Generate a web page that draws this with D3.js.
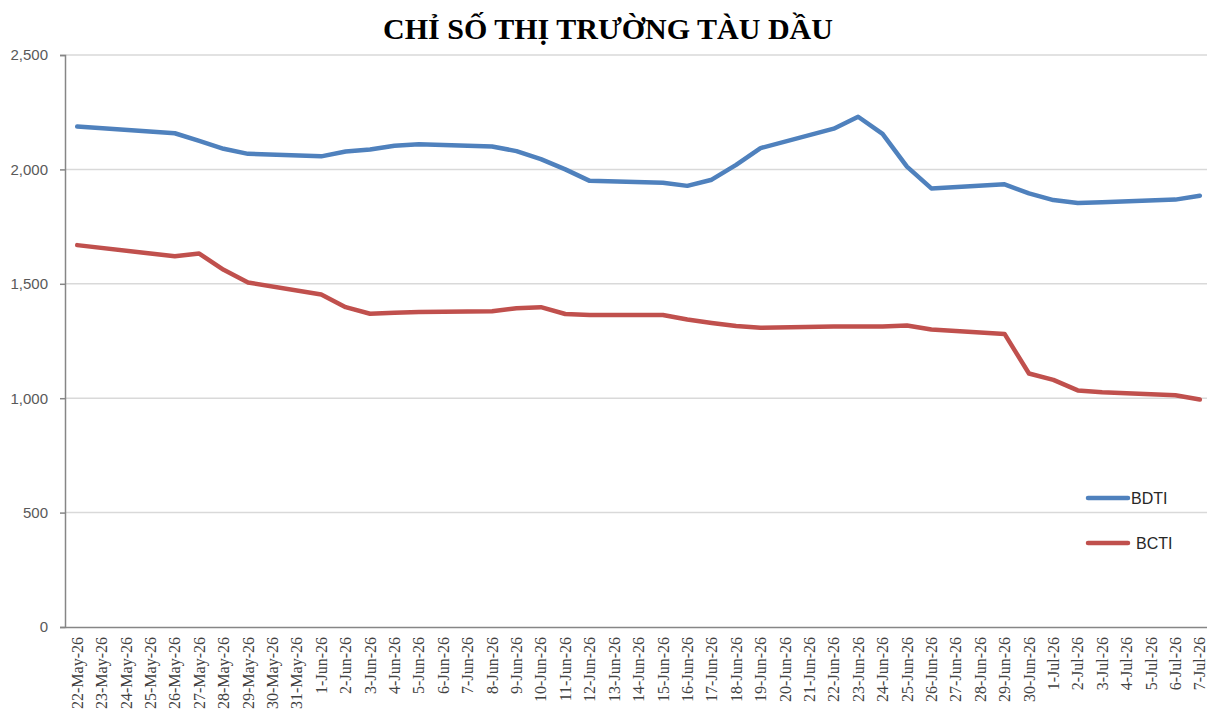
<!DOCTYPE html>
<html lang="vi">
<head>
<meta charset="UTF-8">
<title>Chỉ số thị trường tàu dầu</title>
<script src="https://d3js.org/d3.v7.min.js"></script>
<style>
  body { margin: 0; background: #fff; }
</style>
</head>
<body>
<script>
    // axis categories, one per calendar day
    var categories = ["22-May-26", "23-May-26", "24-May-26", "25-May-26", "26-May-26", "27-May-26", "28-May-26",
        "29-May-26", "30-May-26", "31-May-26", "1-Jun-26", "2-Jun-26", "3-Jun-26", "4-Jun-26", "5-Jun-26",
        "6-Jun-26", "7-Jun-26", "8-Jun-26", "9-Jun-26", "10-Jun-26", "11-Jun-26", "12-Jun-26", "13-Jun-26",
        "14-Jun-26", "15-Jun-26", "16-Jun-26", "17-Jun-26", "18-Jun-26", "19-Jun-26", "20-Jun-26", "21-Jun-26",
        "22-Jun-26", "23-Jun-26", "24-Jun-26", "25-Jun-26", "26-Jun-26", "27-Jun-26", "28-Jun-26", "29-Jun-26",
        "30-Jun-26", "1-Jul-26", "2-Jul-26", "3-Jul-26", "4-Jul-26", "5-Jul-26", "6-Jul-26", "7-Jul-26"];

    // days with published index values
    var obsDates = ["22-May-26", "26-May-26", "27-May-26", "28-May-26", "29-May-26", "1-Jun-26", "2-Jun-26",
        "3-Jun-26", "4-Jun-26", "5-Jun-26", "8-Jun-26", "9-Jun-26", "10-Jun-26", "11-Jun-26", "12-Jun-26",
        "15-Jun-26", "16-Jun-26", "17-Jun-26", "18-Jun-26", "19-Jun-26", "22-Jun-26", "23-Jun-26", "24-Jun-26",
        "25-Jun-26", "26-Jun-26", "29-Jun-26", "30-Jun-26", "1-Jul-26", "2-Jul-26", "3-Jul-26", "6-Jul-26",
        "7-Jul-26"];

    var bdti = [2187, 2158, 2125, 2090, 2068, 2057, 2078, 2087, 2103, 2110, 2100, 2080, 2045, 2000, 1950,
        1942, 1928, 1955, 2020, 2093, 2178, 2230, 2155, 2012, 1917, 1935, 1895, 1866, 1853, 1856, 1868,
        1885];

    var bcti = [1669, 1620, 1632, 1561, 1506, 1453, 1398, 1369, 1374, 1377, 1380, 1393, 1398, 1368, 1364,
        1364, 1344, 1329, 1316, 1308, 1313, 1313, 1313, 1318, 1300, 1281, 1108, 1080, 1034, 1026, 1013,
        994];

    var yTicks = [0, 500, 1000, 1500, 2000, 2500];

    var seriesNames = ["BDTI", "BCTI"];
    var seriesColors = ["#4f81bd", "#c0504d"];

    var width = 1207, height = 717;
    var plotL = 65, plotR = 1212, plotT = 55, plotB = 627;

    var svg = d3.select('body').append('svg')
        .attr('width', width).attr('height', height)
        .style('display', 'block');

    // title
    svg.append('text')
        .attr('x', 608).attr('y', 39)
        .attr('text-anchor', 'middle')
        .style('font-family', '"Liberation Serif", "Times New Roman", serif')
        .style('font-weight', 'bold')
        .style('font-size', '30px')
        .style('fill', '#000')
        .text('CHỈ SỐ THỊ TRƯỜNG TÀU DẦU');

    var x = d3.scaleBand().domain(categories).range([plotL, plotR]);
    var y = d3.scaleLinear().domain([0, 2500]).range([plotB, plotT]);

    // horizontal grid
    svg.append('g')
        .selectAll('line')
        .data(yTicks.filter(function (d) { return d > 0; }))
        .join('line')
        .attr('x1', plotL).attr('x2', width)
        .attr('y1', function (d) { return y(d); })
        .attr('y2', function (d) { return y(d); })
        .attr('stroke', '#d9d9d9')
        .attr('stroke-width', 1.5);

    // y axis
    var yAxis = svg.append('g')
        .attr('transform', 'translate(' + plotL + ',0)')
        .call(d3.axisLeft(y).tickValues(yTicks).tickSize(5).tickPadding(12).tickFormat(d3.format(',')));
    yAxis.select('.domain').attr('stroke', '#868686').attr('stroke-width', 1.5);
    yAxis.selectAll('.tick line').attr('stroke', '#868686').attr('stroke-width', 1.5);
    yAxis.selectAll('.tick text')
        .style('font-family', '"Liberation Sans", Arial, sans-serif')
        .style('font-size', '15px')
        .style('fill', '#595959');

    // x axis
    var xAxis = svg.append('g')
        .attr('transform', 'translate(0,' + plotB + ')')
        .call(d3.axisBottom(x).tickSize(0).tickSizeOuter(0));
    xAxis.select('.domain').attr('stroke', '#868686').attr('stroke-width', 1.5);
    xAxis.selectAll('.tick text')
        .attr('transform', 'rotate(-90)')
        .attr('text-anchor', 'end')
        .attr('x', -10).attr('y', 0).attr('dy', '0.35em')
        .style('font-family', '"Liberation Serif", "Times New Roman", serif')
        .style('font-size', '16px')
        .style('fill', '#404040');

    // lines
    var line = d3.line()
        .x(function (d) { return x(d.date) + x.bandwidth() / 2; })
        .y(function (d) { return y(d.value); });

    [bdti, bcti].forEach(function (vals, i) {
        var pts = obsDates.map(function (dt, j) { return {date: dt, value: vals[j]}; });
        svg.append('path')
            .datum(pts)
            .attr('fill', 'none')
            .attr('stroke', seriesColors[i])
            .attr('stroke-width', 4.5)
            .attr('stroke-linejoin', 'round')
            .attr('stroke-linecap', 'round')
            .attr('d', line);
    });

    // legend
    var legend = svg.append('g').selectAll('g')
        .data(seriesNames)
        .join('g')
        .attr('transform', function (d, i) { return 'translate(1088,' + (498 + i * 45) + ')'; });
    legend.append('line')
        .attr('x1', 0).attr('x2', 40)
        .attr('stroke', function (d, i) { return seriesColors[i]; })
        .attr('stroke-width', 4.5)
        .attr('stroke-linecap', 'round');
    legend.append('text')
        .attr('x', function (d, i) { return i === 0 ? 43 : 48; })
        .attr('dy', '0.35em')
        .style('font-family', '"Liberation Sans", Arial, sans-serif')
        .style('font-size', '16px')
        .style('fill', '#262626')
        .text(function (d) { return d; });
</script>
</body>
</html>
